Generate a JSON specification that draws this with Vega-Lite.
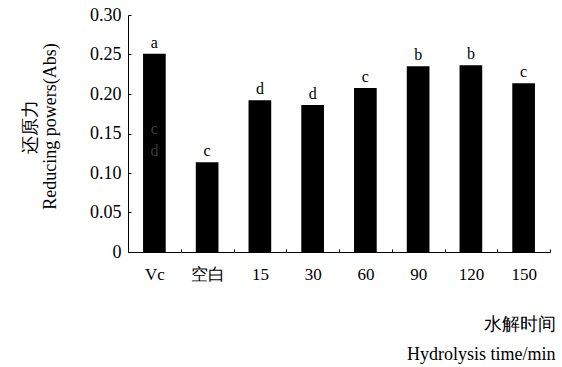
{
  "$schema": "https://vega.github.io/schema/vega-lite/v6.json",
  "width": 422,
  "height": 237,
  "autosize": {"type": "none"},
  "padding": {"left": 128, "top": 15, "right": 12, "bottom": 115},
  "background": "white",
  "config": {
    "view": {"stroke": null},
    "axisX": {"labelFont": "Liberation Serif", "labelFontSize": 17, "labelPadding": 17, "labelColor": "black"},
    "axisY": {"labelFont": "Liberation Serif", "labelFontSize": 18, "labelPadding": 10, "labelColor": "black", "labelOverlap": false}
  },
  "datasets": {
    "bars": [
      {"group": "Vc", "value": 0.251, "sig": "a"},
      {"group": "空白", "value": 0.1135, "sig": "c"},
      {"group": "15", "value": 0.192, "sig": "d"},
      {"group": "30", "value": 0.186, "sig": "d"},
      {"group": "60", "value": 0.2075, "sig": "c"},
      {"group": "90", "value": 0.235, "sig": "b"},
      {"group": "120", "value": 0.2365, "sig": "b"},
      {"group": "150", "value": 0.2135, "sig": "c"}
    ],
    "inner": [
      {"group": "Vc", "value": 0.156, "sig": "c"},
      {"group": "Vc", "value": 0.128, "sig": "d"}
    ]
  },
  "encoding": {
    "x": {"field": "group", "type": "nominal", "sort": null,
      "scale": {"paddingInner": 0, "paddingOuter": 0},
      "axis": {"labelAngle": 0, "tickBand": "extent", "tickSize": -3, "tickColor": "black", "domainColor": "black",
        "title": ["水解时间", "Hydrolysis time/min"], "titleFont": "Liberation Serif", "titleFontWeight": "normal", "titleFontSize": 18, "titleLineHeight": 30, "titleColor": "black",
        "titleAnchor": "end", "titleAlign": "right", "titleBaseline": "alphabetic", "titleX": 427, "titleY": 77}},
    "y": {"field": "value", "type": "quantitative",
      "scale": {"domain": [0, 0.3], "nice": false},
      "axis": {"values": [0, 0.05, 0.1, 0.15, 0.2, 0.25, 0.3], "labelExpr": "datum.value == 0 ? '0' : format(datum.value, '.2f')",
        "grid": false, "tickSize": -3, "tickColor": "black", "domainColor": "black",
        "title": ["还原力", "Reducing powers(Abs)"], "titleFont": "Liberation Serif", "titleFontWeight": "normal", "titleFontSize": 18, "titleLineHeight": 20, "titlePadding": 30, "titleY": 111, "titleColor": "black"}}
  },
  "layer": [
    {
      "data": {"name": "bars"},
      "mark": {"type": "bar", "color": "black", "width": {"band": 0.43}}
    },
    {
      "data": {"name": "bars"},
      "mark": {"type": "text", "baseline": "bottom", "dy": -3, "fontSize": 16, "color": "black", "font": "Liberation Serif"},
      "encoding": {"text": {"field": "sig"}}
    },
    {
      "data": {"name": "inner"},
      "mark": {"type": "text", "baseline": "middle", "fontSize": 16, "color": "#3a3a3a", "font": "Liberation Serif"},
      "encoding": {"text": {"field": "sig"}}
    }
  ]
}
